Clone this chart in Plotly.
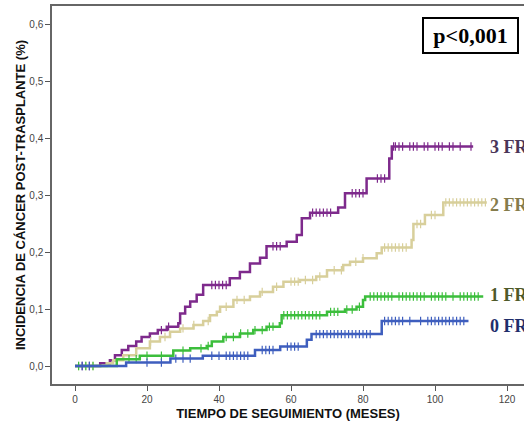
import numpy as np
import plotly.graph_objects as go

# ---- data ----
purple_t = [0, 7, 9.7, 11.1, 13, 14.8, 17, 18.5, 20.8, 23, 25.5, 28.7, 29.2, 30.6, 32, 33.8, 35.6, 43, 45.8, 48.6,
            51.4, 53.2, 58.8, 61.6, 63, 65.3, 73.1, 75, 81, 87.3, 88, 110.6]
purple_v = [0, 0.005, 0.01, 0.019, 0.028, 0.035, 0.043, 0.051, 0.057, 0.063, 0.069, 0.075, 0.092, 0.104, 0.113, 0.125,
            0.142, 0.154, 0.165, 0.18, 0.19, 0.21, 0.218, 0.23, 0.259, 0.269, 0.278, 0.303, 0.329, 0.364, 0.385, 0.385]
purple_cens = [2, 4, 24, 26, 38, 39, 40, 41, 42, 55, 56, 57, 66, 67, 68, 69, 70, 71, 77, 78, 79, 80, 84, 85, 86,
               88.5, 89, 90, 91, 93, 94, 95, 97, 98, 100, 101, 102, 104, 105, 107, 110]

beige_t = [0, 8.8, 10.6, 13.4, 17, 20.8, 23.6, 26.4, 29.2, 32.9, 35.6, 37.5, 39.4, 40.3, 44, 48.6, 51.4, 55, 57.9, 62.5,
           67, 70, 74.5, 76.4, 80, 83.8, 85.2, 93.5, 94, 97.2, 102.3, 114.4]
beige_v = [0, 0.005, 0.01, 0.019, 0.031, 0.043, 0.051, 0.06, 0.066, 0.072, 0.079, 0.089, 0.095, 0.104, 0.116, 0.122,
           0.13, 0.139, 0.148, 0.151, 0.157, 0.168, 0.177, 0.183, 0.189, 0.198, 0.208, 0.221, 0.249, 0.265, 0.287, 0.287]
beige_cens = [1, 3, 5, 21, 25, 30, 33, 37, 42, 45, 47, 52, 56, 60, 61, 62, 64, 66, 68, 72, 74, 78, 80, 86, 87, 88, 89,
              90, 91, 92, 95, 96, 99, 100, 103, 104, 105, 106, 107, 108, 109, 110, 111, 112, 113, 114]

green_t = [0, 11.6, 18, 27.3, 32, 36.6, 38, 41.2, 45.8, 49.5, 53.2, 56.9, 57.4, 70, 75, 78.2, 80, 80.6, 113.4]
green_v = [0, 0.012, 0.018, 0.027, 0.031, 0.035, 0.043, 0.051, 0.057, 0.063, 0.069, 0.075, 0.089, 0.095, 0.099, 0.104,
           0.116, 0.122, 0.122]
green_cens = [1, 3, 5, 15, 17, 20, 24, 30, 35, 37, 42, 44, 46, 48, 50, 52, 54, 55, 58, 59, 60, 61, 62, 63, 64, 65, 66,
              67, 68, 71, 72, 73, 75.5, 77, 79, 82, 83, 84, 85, 86, 87, 88, 90, 91, 92, 93, 94, 95, 96, 97, 99, 100,
              101, 102, 103, 105, 107, 108, 109, 110, 111, 112]

blue_t = [0, 14.2, 26.5, 35.5, 50, 57, 64.4, 65.7, 85.2, 109.3]
blue_v = [0, 0.006, 0.013, 0.018, 0.028, 0.034, 0.046, 0.056, 0.079, 0.079]
blue_cens = [2, 4, 20, 24, 28, 30, 32, 38, 40, 42, 43, 44, 45, 46, 47, 48, 52, 53, 54, 55, 59, 60, 61, 62, 67, 68, 69,
             70, 71, 72, 73, 74, 75, 76, 77, 78, 79, 80, 81, 82, 86, 87, 88, 89, 90, 91, 93, 96, 98, 99, 100, 101, 102,
             103, 104, 105, 106, 107, 108]

group_labels = ["3 FR", "2 FR", "1 FR", "0 FR"]
label_y = [0.384, 0.282, 0.125, 0.071]
x_ticks = [0, 20, 40, 60, 80, 100, 120]
y_ticks = [0.0, 0.1, 0.2, 0.3, 0.4, 0.5, 0.6]
y_ticktext = ["0,0", "0,1", "0,2", "0,3", "0,4", "0,5", "0,6"]
p_text = "p<0,001"

series = [
    (purple_t, purple_v, purple_cens, "#7E2A8C", "#4A3558"),
    (beige_t, beige_v, beige_cens, "#D8CF9B", "#857C4C"),
    (green_t, green_v, green_cens, "#3CBE3C", "#4E5A2A"),
    (blue_t, blue_v, blue_cens, "#3E5EBE", "#1F2E6C"),
]

fig = go.Figure()
for (t, v, c, col, _) in series:
    fig.add_trace(go.Scatter(x=t, y=v, mode="lines", line=dict(color=col, width=2.5, shape="hv"),
                             showlegend=False, hoverinfo="skip"))
    t_arr = np.array(t)
    v_arr = np.array(v)
    idx = np.searchsorted(t_arr, np.array(c), side="right") - 1
    fig.add_trace(go.Scatter(x=c, y=v_arr[idx], mode="markers",
                             marker=dict(symbol="line-ns-open", size=6, color=col,
                                         line=dict(color=col, width=1.2)),
                             showlegend=False, hoverinfo="skip"))

for (lab, ly, s) in zip(group_labels, label_y, series):
    fig.add_annotation(x=114.6, y=ly, xref="x", yref="y", text="<b>%s</b>" % lab, showarrow=False,
                       xanchor="left", yanchor="middle",
                       font=dict(family="Liberation Serif", size=18, color=s[4]))

fig.add_annotation(xref="paper", yref="paper", x=(470 - 52) / 472, y=(384 - 35) / 378,
                   text="<b>%s</b>" % p_text, showarrow=False, xanchor="center", yanchor="middle",
                   font=dict(family="Liberation Serif", size=22, color="black"),
                   bordercolor="black", borderwidth=2, borderpad=0, width=93, height=33, bgcolor="white")

axis_font = dict(family="Arial", size=10, color="#444444")
title_font = dict(family="Arial", size=13, color="#111111")
fig.update_layout(
    width=524, height=421,
    margin=dict(l=52, r=0, t=6, b=37),
    paper_bgcolor="white", plot_bgcolor="white",
    xaxis=dict(range=[-23 / 3.6, 449 / 3.6], tickvals=x_ticks, ticks="outside", ticklen=5, tickcolor="#555555",
               showline=True, linecolor="#666666", linewidth=1.5, mirror=True, showgrid=False, zeroline=False,
               tickfont=axis_font,
               title=dict(text="<b>TIEMPO DE SEGUIMIENTO (MESES)</b>", standoff=6, font=title_font)),
    yaxis=dict(range=[-18 / 570, 360 / 570], tickvals=y_ticks, ticktext=y_ticktext, ticks="outside", ticklen=5,
               tickcolor="#555555", showline=True, linecolor="#666666", linewidth=1.5, showgrid=False,
               zeroline=False, tickfont=axis_font,
               title=dict(text="<b>INCIDENCIA DE CÁNCER POST-TRASPLANTE (%)</b>", standoff=1, font=title_font)),
)

fig.write_html("out.html")
